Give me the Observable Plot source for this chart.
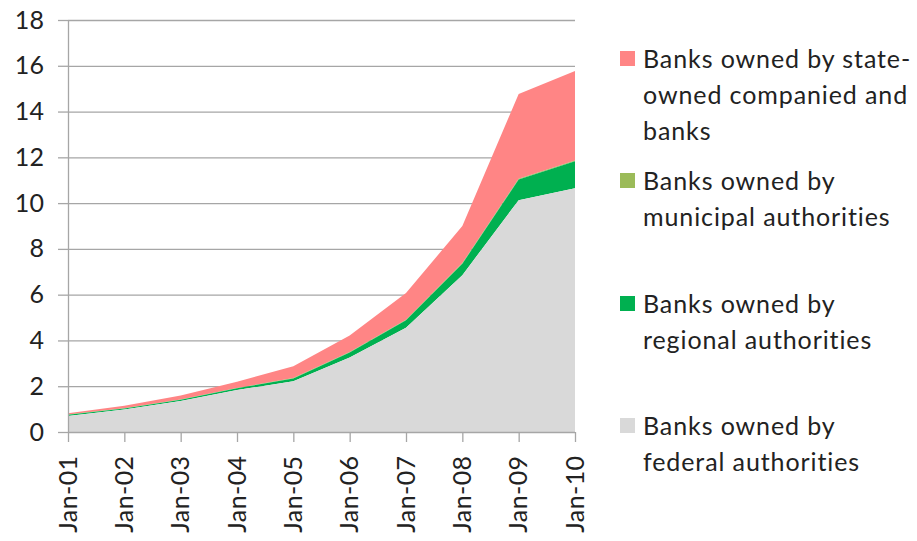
<!DOCTYPE html>
<html>
<head>
<meta charset="utf-8">
<script src="https://cdn.jsdelivr.net/npm/d3@7"></script>
<script src="https://cdn.jsdelivr.net/npm/@observablehq/plot@0.6"></script>
<style>
  html, body { margin: 0; padding: 0; background: #fff; }
  #wrap { position: relative; width: 917px; height: 541px; overflow: hidden; font-family: Lato, "Open Sans", sans-serif; font-variant-ligatures: none; }
  #chart { position: absolute; left: 0; top: 0; }
  #chart svg text { font-variant-ligatures: none; letter-spacing: 0.4px; }
  .leg { position: absolute; left: 620px; font-size: 25px; line-height: 36px; color: #222; letter-spacing: 0.9px; }
  .leg .sw { position: absolute; left: 0; top: 3px; width: 15px; height: 15px; }
  .leg .tx { position: absolute; left: 23px; top: -8px; white-space: nowrap; }
</style>
</head>
<body>
<div id="wrap"><div id="chart"></div></div>
<script>
// Categories (x tick labels)
const periods = ["Jan-01","Jan-02","Jan-03","Jan-04","Jan-05","Jan-06","Jan-07","Jan-08","Jan-09","Jan-10"];
// Series names (legend, top to bottom)
const seriesNames = [
  "Banks owned by state-owned companied and banks",
  "Banks owned by municipal authorities",
  "Banks owned by regional authorities",
  "Banks owned by federal authorities"
];
const legendLines = [
  ["Banks owned by state-", "owned companied and", "banks"],
  ["Banks owned by", "municipal authorities"],
  ["Banks owned by", "regional authorities"],
  ["Banks owned by", "federal authorities"]
];
const seriesColors = ["#FF8585", "#9BBB59", "#00B050", "#D9D9D9"];
// Values (stacked components)
const federal   = [0.70, 0.98, 1.35, 1.83, 2.22, 3.25, 4.55, 6.85, 10.13, 10.65];
const regional  = [0.05, 0.05, 0.06, 0.08, 0.12, 0.22, 0.33, 0.50, 0.90, 1.18];
const municipal = [0.01, 0.01, 0.01, 0.01, 0.02, 0.02, 0.02, 0.03, 0.03, 0.03];
const stateOwned= [0.06, 0.11, 0.18, 0.28, 0.51, 0.73, 1.17, 1.62, 3.71, 3.91];
// Y axis ticks
const yTicks = [0, 2, 4, 6, 8, 10, 12, 14, 16, 18];

const seriesValues = [stateOwned, municipal, regional, federal];
const data = [];
seriesNames.forEach((name, s) => {
  periods.forEach((p, i) => data.push({ i, series: name, value: seriesValues[s][i] }));
});
const stackOrder = [seriesNames[3], seriesNames[2], seriesNames[1], seriesNames[0]];

const gridColor = "#A6A6A6";
const chart = Plot.plot({
  width: 600,
  height: 541,
  marginLeft: 68,
  marginRight: 25,
  marginTop: 20,
  marginBottom: 109,
  style: { fontFamily: "Lato, 'Open Sans', sans-serif", fontSize: "25px", color: "#222", background: "transparent" },
  x: { domain: [0, periods.length - 1] },
  y: { domain: [0, 18] },
  color: { domain: seriesNames, range: seriesColors },
  marks: [
    Plot.ruleY(yTicks.slice(1), { stroke: gridColor, strokeWidth: 1.3 }),
    Plot.areaY(data, { x: "i", y: "value", z: "series", fill: "series", order: stackOrder }),
    Plot.ruleX([0], { stroke: gridColor, strokeWidth: 1.3 }),
    Plot.ruleY([0], { stroke: gridColor, strokeWidth: 1.3 }),
    Plot.axisY({ ticks: yTicks, tickSize: 10, tickPadding: 14, stroke: gridColor, strokeWidth: 1.3, label: null, fontSize: 25 }),
    Plot.axisX({ ticks: d3.range(periods.length), tickFormat: i => periods[i], tickRotate: -90, tickSize: 10, tickPadding: 13, stroke: gridColor, strokeWidth: 1.3, label: null, fontSize: 25 })
  ]
});
document.getElementById("chart").appendChild(chart);

// Legend (HTML, to the right of the plot)
const tops = [48, 170, 293, 415];
const wrap = document.getElementById("wrap");
legendLines.forEach((lines, k) => {
  const d = document.createElement("div");
  d.className = "leg";
  d.style.top = tops[k] + "px";
  const sw = document.createElement("div");
  sw.className = "sw";
  sw.style.background = seriesColors[k];
  const tx = document.createElement("div");
  tx.className = "tx";
  tx.innerHTML = lines.join("<br>");
  d.appendChild(sw); d.appendChild(tx);
  wrap.appendChild(d);
});
</script>
</body>
</html>
